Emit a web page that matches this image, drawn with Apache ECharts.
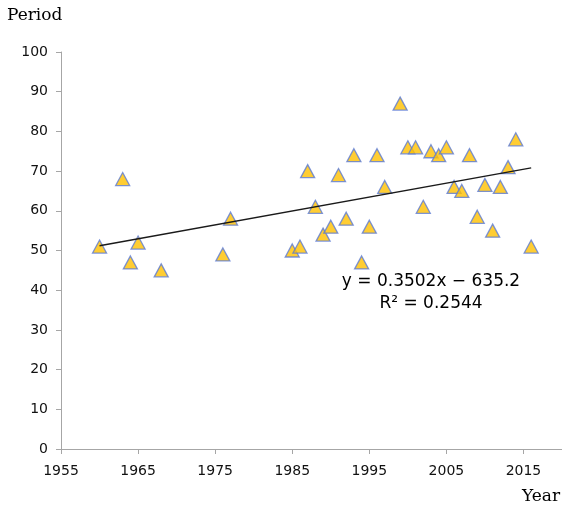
<!DOCTYPE html>
<html>
<head>
<meta charset="utf-8">
<script src="https://cdn.jsdelivr.net/npm/echarts@6/dist/echarts.min.js"></script>
<style>
html,body{margin:0;padding:0;background:#fff;}
#chart{width:562px;height:511px;}
</style>
</head>
<body>
<div id="chart"></div>
<script>
// Data
const years = [1960, 1963, 1964, 1965, 1968, 1976, 1977, 1985, 1986, 1987, 1988, 1989, 1990, 1991, 1992, 1993, 1994, 1995, 1996, 1997, 1999, 2000, 2001, 2002, 2003, 2004, 2005, 2006, 2007, 2008, 2009, 2010, 2011, 2012, 2013, 2014, 2016];
const periods = [51, 68, 47, 52, 45, 49, 58, 50, 51, 70, 61, 54, 56, 69, 58, 74, 47, 56, 74, 66, 87, 76, 76, 61, 75, 74, 76, 66, 65, 74, 58.5, 66.5, 55, 66, 71, 78, 51];
const trendYears = [1960, 2016];
const trendValues = [51.2, 70.8];
const equationText = 'y = 0.3502x \u2212 635.2';
const r2Text = 'R\u00b2 = 0.2544';
const yAxisTitle = 'Period';
const xAxisTitle = 'Year';

const chart = echarts.init(document.getElementById('chart'), null, {renderer: 'canvas'});
const axisColor = '#a6a6a6';
const labelFont = 'DejaVu Sans';
chart.setOption({
  animation: false,
  backgroundColor: '#ffffff',
  grid: {left: 61, top: 52, right: -1, bottom: 62, containLabel: false},
  xAxis: {
    type: 'value', min: 1955, max: 2020, interval: 10,
    axisLine: {show: true, lineStyle: {color: axisColor, width: 1}},
    axisTick: {show: true, length: 5, lineStyle: {color: axisColor}},
    splitLine: {show: false},
    axisLabel: {
      color: '#111', fontFamily: labelFont, fontSize: 14, margin: 15,
      showMaxLabel: false,
      formatter: v => (v === 2020 ? '' : String(v))
    }
  },
  yAxis: {
    type: 'value', min: 0, max: 100, interval: 10,
    axisLine: {show: true, lineStyle: {color: axisColor, width: 1}},
    axisTick: {show: true, length: 5, lineStyle: {color: axisColor}},
    splitLine: {show: false},
    axisLabel: {color: '#111', fontFamily: labelFont, fontSize: 14, margin: 13}
  },
  series: [
    {
      type: 'line',
      data: trendYears.map((x, i) => [x, trendValues[i]]),
      symbol: 'none',
      lineStyle: {color: '#1a1a1a', width: 1.4},
      z: 3
    },
    {
      type: 'scatter',
      data: years.map((x, i) => [x, periods[i]]),
      symbol: 'triangle',
      symbolSize: [14, 13],
      itemStyle: {color: '#FFC000', borderColor: '#5B7BD5', borderWidth: 1.3},
      z: 2
    }
  ],
  graphic: [
    {type: 'text', left: 7, top: 7, style: {text: yAxisTitle, font: '17px "DejaVu Serif"', fill: '#000'}},
    {type: 'text', left: 522, top: 488, style: {text: xAxisTitle, font: '17px "DejaVu Serif"', fill: '#000'}},
    {type: 'text', x: 431, y: 282, style: {text: equationText, font: '17px "DejaVu Sans"', fill: '#000', align: 'center', verticalAlign: 'middle'}},
    {type: 'text', x: 431, y: 304, style: {text: r2Text, font: '17px "DejaVu Sans"', fill: '#000', align: 'center', verticalAlign: 'middle'}}
  ]
});
</script>
</body>
</html>
